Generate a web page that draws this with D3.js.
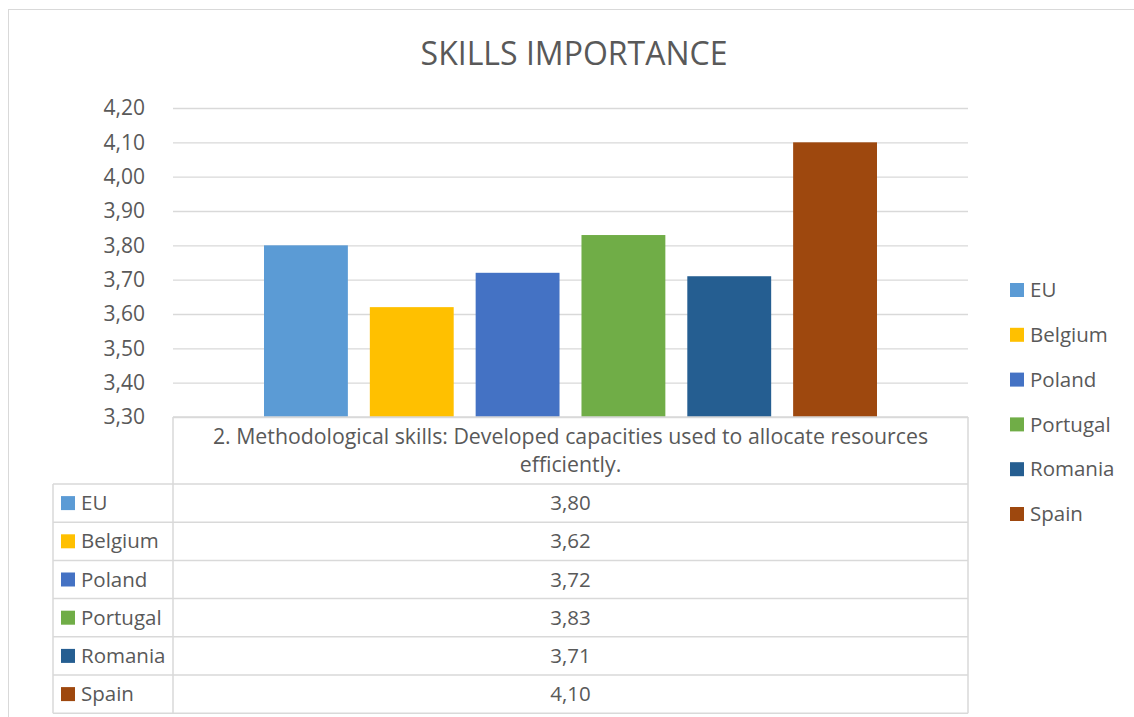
<!DOCTYPE html>
<html>
<head>
<meta charset="utf-8">
<script src="https://cdn.jsdelivr.net/npm/d3@7"></script>
<style>
  body { margin: 0; background: #fff; }
  text { font-family: "Open Sans", "Liberation Sans", sans-serif; fill: #595959; }
</style>
</head>
<body>
<script>
// chart data
var countries = ["EU", "Belgium", "Poland", "Portugal", "Romania", "Spain"];
var values = [3.80, 3.62, 3.72, 3.83, 3.71, 4.10];
var colors = ["#5B9BD5", "#FFC000", "#4472C4", "#70AD47", "#255E91", "#9E480E"];
var yTicks = [3.3, 3.4, 3.5, 3.6, 3.7, 3.8, 3.9, 4.0, 4.1, 4.2];
var categoryLines = ["2. Methodological skills: Developed capacities used to allocate resources", "efficiently."];

var W = 1134, H = 717;
var plot = {left: 173, right: 968, top: 108, bottom: 417};
var fmt = function(v){ return d3.format(".2f")(v).replace(".", ","); };

var svg = d3.select("body").append("svg")
    .attr("width", W)
    .attr("height", H);

// outer chart border
svg.append("rect")
    .attr("x", 8.5).attr("y", 9.5)
    .attr("width", W + 10).attr("height", H + 10)
    .attr("fill", "none")
    .attr("stroke", "#d9d9d9");

svg.append("text")
    .attr("x", 574).attr("y", 65)
    .attr("text-anchor", "middle")
    .style("font-size", "32px")
    .text("SKILLS IMPORTANCE");

var y = d3.scaleLinear()
    .domain([3.3, 4.2])
    .range([plot.bottom, plot.top]);

// gridlines + labels via axis
var yAxis = svg.append("g")
    .attr("transform", "translate(" + plot.left + ",0)")
    .call(d3.axisLeft(y).tickValues(yTicks).tickSize(-(plot.right - plot.left)).tickFormat(fmt));
yAxis.select(".domain").remove();
yAxis.selectAll(".tick line").attr("stroke", "#d9d9d9").attr("stroke-width", 1.3);
yAxis.selectAll(".tick text")
    .attr("x", -28)
    .style("font-size", "21px")
    .style("fill", "#595959");

// bars: one category group, series laid out by band scale
var x = d3.scaleBand()
    .domain(countries)
    .range([264, 877])
    .paddingInner(0.2075)
    .paddingOuter(0);

svg.append("g").selectAll("rect")
    .data(countries)
    .enter()
    .append("rect")
    .attr("x", function(d){ return x(d); })
    .attr("y", function(d, i){ return y(values[i]); })
    .attr("width", x.bandwidth())
    .attr("height", function(d, i){ return plot.bottom - y(values[i]); })
    .attr("fill", function(d, i){ return colors[i]; });

// data table
var tbl = {left: 53, top: 417, headBottom: 484, rowH: 38.2};
var line = "#d9d9d9";
var g = svg.append("g").attr("stroke", line).attr("stroke-width", 1.5).attr("fill", "none");
var rowY = countries.map(function(d, i){ return tbl.headBottom + i * tbl.rowH; });
var tableBottom = tbl.headBottom + countries.length * tbl.rowH;

g.append("line").attr("x1", plot.left).attr("x2", plot.right).attr("y1", tbl.top).attr("y2", tbl.top);
g.append("line").attr("x1", plot.left).attr("x2", plot.left).attr("y1", tbl.top).attr("y2", tableBottom);
g.append("line").attr("x1", plot.right).attr("x2", plot.right).attr("y1", tbl.top).attr("y2", tableBottom);
g.append("line").attr("x1", tbl.left).attr("x2", tbl.left).attr("y1", tbl.headBottom).attr("y2", tableBottom);
g.selectAll("line.row")
    .data(rowY.concat([tableBottom]))
    .enter().append("line")
    .attr("class", "row")
    .attr("x1", tbl.left).attr("x2", plot.right)
    .attr("y1", function(d){ return d; }).attr("y2", function(d){ return d; });

svg.append("g").selectAll("text")
    .data(categoryLines)
    .enter().append("text")
    .attr("x", (plot.left + plot.right) / 2)
    .attr("y", function(d, i){ return 444 + i * 28; })
    .attr("text-anchor", "middle")
    .style("font-size", "21.3px")
    .text(function(d){ return d; });

var rows = svg.append("g").selectAll("g")
    .data(countries)
    .enter().append("g")
    .attr("transform", function(d, i){ return "translate(0," + (rowY[i] + tbl.rowH / 2) + ")"; });
rows.append("rect")
    .attr("x", 61).attr("y", -7)
    .attr("width", 14).attr("height", 14)
    .attr("fill", function(d, i){ return colors[i]; });
rows.append("text")
    .attr("x", 81).attr("dy", "0.35em")
    .style("font-size", "20.5px")
    .text(function(d){ return d; });
rows.append("text")
    .attr("x", (plot.left + plot.right) / 2).attr("dy", "0.35em")
    .attr("text-anchor", "middle")
    .style("font-size", "20.5px")
    .text(function(d, i){ return fmt(values[i]); });

// legend
var legend = svg.append("g").selectAll("g")
    .data(countries)
    .enter().append("g")
    .attr("transform", function(d, i){ return "translate(1010," + (290 + i * 44.8) + ")"; });
legend.append("rect")
    .attr("y", -7).attr("width", 14).attr("height", 14)
    .attr("fill", function(d, i){ return colors[i]; });
legend.append("text")
    .attr("x", 20).attr("dy", "0.35em")
    .style("font-size", "20.5px")
    .text(function(d){ return d; });
</script>
</body>
</html>
